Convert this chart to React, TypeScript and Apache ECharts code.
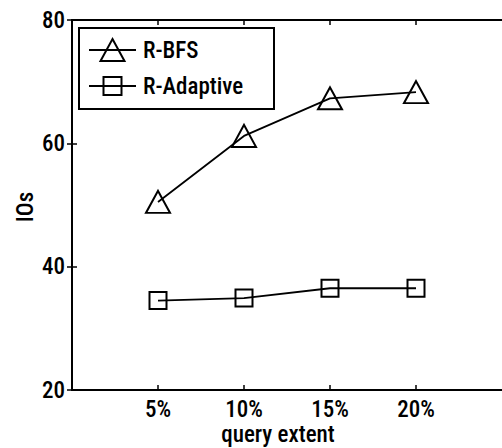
import React, { useEffect, useRef } from "react";
import * as echarts from "echarts";

const xValues = [5, 10, 15, 20];
const xTickLabels = ["5%", "10%", "15%", "20%"];
const bfsValues = [50.5, 61.2, 67.3, 68.3];
const adaptiveValues = [34.5, 34.9, 36.5, 36.5];
const seriesNames = ["R-BFS", "R-Adaptive"];
const yTicks = [20, 40, 60, 80];

const FONT = "'Roboto Condensed', 'Liberation Sans', sans-serif";
const FS = 23;
const FW = 500;

export default function App() {
  const ref = useRef<HTMLDivElement>(null);
  useEffect(() => {
    if (!ref.current) return;
    const chart = echarts.init(ref.current, null, { renderer: "svg" });
    const labelMap: Record<number, string> = {};
    xValues.forEach((v, i) => (labelMap[v] = xTickLabels[i]));
    const axisCommon = {
      axisLine: { show: true, lineStyle: { color: "#000", width: 2 } },
      axisTick: { show: true, inside: true, length: 5, lineStyle: { color: "#000", width: 1.5 } },
      splitLine: { show: false },
    };
    const option: any = {
      animation: false,
      backgroundColor: "#fff",
      grid: { left: 72, top: 20, width: 433, height: 370, show: false },
      xAxis: [
        {
          type: "value",
          min: 0,
          max: 25,
          interval: 5,
          position: "bottom",
          ...axisCommon,
          axisTick: { ...axisCommon.axisTick, customValues: xValues },
          axisLabel: {
            customValues: xValues,
            formatter: (v: number) => labelMap[v] ?? "",
            color: "#000",
            fontFamily: FONT,
            fontSize: FS,
            fontWeight: FW,
            margin: 8,
          },
        },
        {
          type: "value",
          min: 0,
          max: 25,
          interval: 5,
          position: "top",
          ...axisCommon,
          axisTick: { ...axisCommon.axisTick, customValues: xValues },
          axisLabel: { show: false },
        },
      ],
      yAxis: [
        {
          type: "value",
          min: yTicks[0],
          max: yTicks[yTicks.length - 1],
          interval: 20,
          position: "left",
          ...axisCommon,
          axisLabel: {
            color: "#000",
            fontFamily: FONT,
            fontSize: FS,
            fontWeight: FW,
            margin: 7,
          },
        },
        {
          type: "value",
          min: 20,
          max: 80,
          interval: 20,
          position: "right",
          ...axisCommon,
          axisLabel: { show: false },
        },
      ],
      series: [
        {
          name: seriesNames[0],
          type: "line",
          data: xValues.map((x, i) => [x, bfsValues[i]]),
          symbol: "triangle",
          symbolSize: [24, 22],
          lineStyle: { color: "#000", width: 1.8 },
          itemStyle: { color: "rgba(0,0,0,0)", borderColor: "#000", borderWidth: 2 },
        },
        {
          name: seriesNames[1],
          type: "line",
          data: xValues.map((x, i) => [x, adaptiveValues[i]]),
          symbol: "rect",
          symbolSize: [17, 17],
          lineStyle: { color: "#000", width: 1.8 },
          itemStyle: { color: "rgba(0,0,0,0)", borderColor: "#000", borderWidth: 2 },
        },
      ],
      graphic: [
        {
          type: "rect",
          shape: { x: 79, y: 28, width: 195, height: 81 },
          style: { fill: "#fff", stroke: "#000", lineWidth: 2 },
          z: 100,
        },
        {
          type: "line",
          shape: { x1: 89, y1: 50, x2: 136, y2: 50 },
          style: { stroke: "#000", lineWidth: 1.8 },
          z: 101,
        },
        {
          type: "polygon",
          shape: { points: [[112.5, 39], [124.5, 61], [100.5, 61]] },
          style: { fill: "none", stroke: "#000", lineWidth: 2 },
          z: 101,
        },
        {
          type: "text",
          x: 143,
          y: 50,
          style: {
            text: seriesNames[0],
            fill: "#000",
            font: `${FW} ${FS}px ${FONT}`,
            verticalAlign: "middle",
            align: "left",
          },
          z: 101,
        },
        {
          type: "line",
          shape: { x1: 89, y1: 86, x2: 136, y2: 86 },
          style: { stroke: "#000", lineWidth: 1.8 },
          z: 101,
        },
        {
          type: "rect",
          shape: { x: 103.5, y: 77, width: 18, height: 18 },
          style: { fill: "none", stroke: "#000", lineWidth: 2 },
          z: 101,
        },
        {
          type: "text",
          x: 143,
          y: 86,
          style: {
            text: seriesNames[1],
            fill: "#000",
            font: `${FW} ${FS}px ${FONT}`,
            verticalAlign: "middle",
            align: "left",
          },
          z: 101,
        },
        {
          type: "text",
          x: 278,
          y: 434,
          style: {
            text: "query extent",
            fill: "#000",
            font: `${FW} ${FS}px ${FONT}`,
            align: "center",
            verticalAlign: "middle",
          },
        },
        {
          type: "text",
          x: 25,
          y: 207,
          rotation: Math.PI / 2,
          style: {
            text: "IOs",
            fill: "#000",
            font: `${FW} ${FS}px ${FONT}`,
            align: "center",
            verticalAlign: "middle",
          },
        },
      ],
    };
    chart.setOption(option);
    return () => chart.dispose();
  }, []);
  return (
    <div
      ref={ref}
      style={{ position: "fixed", left: 0, top: 0, width: 502, height: 448, background: "#fff" }}
    />
  );
}
